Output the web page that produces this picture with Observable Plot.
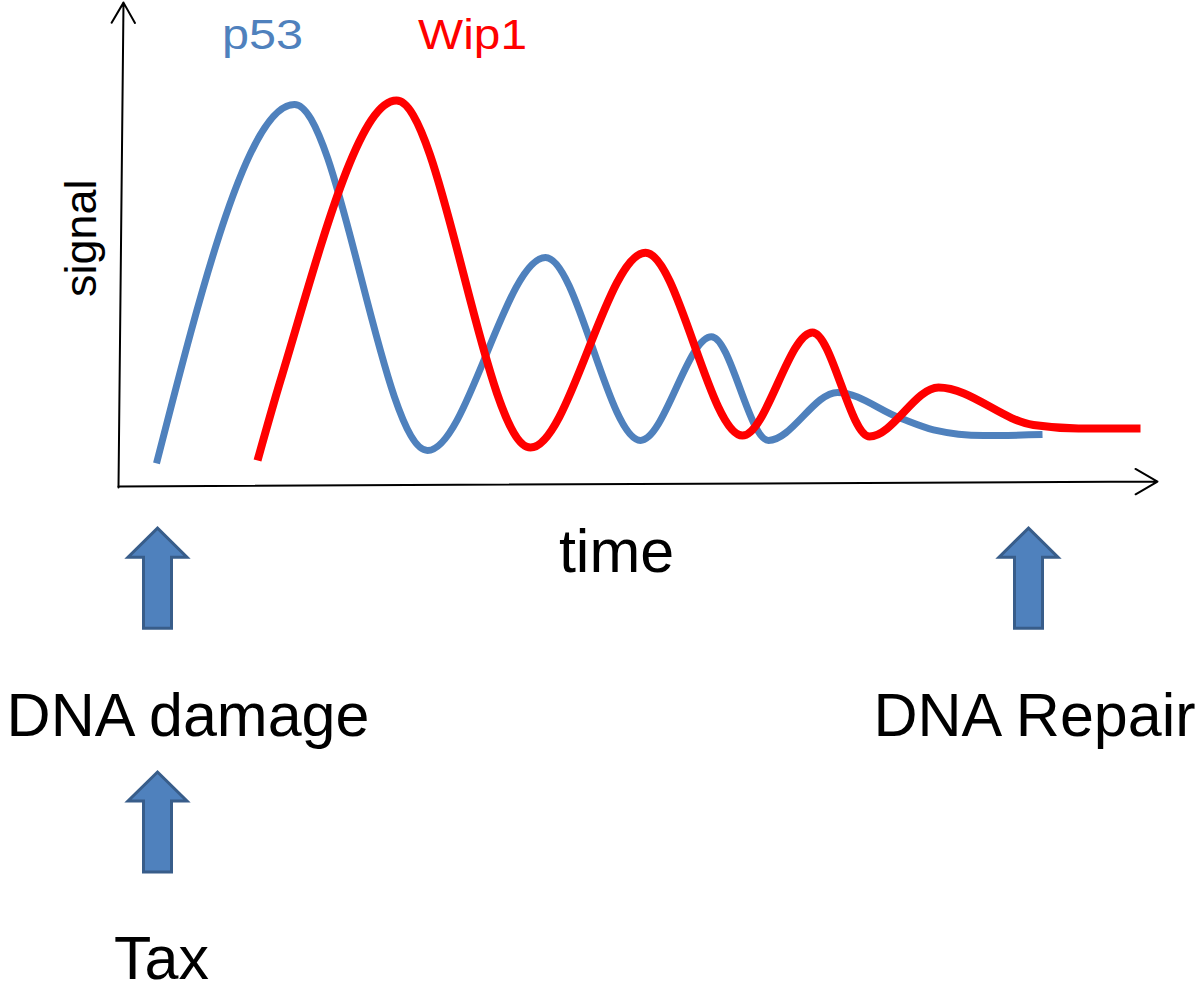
<!DOCTYPE html>
<html>
<head>
<meta charset="utf-8">
<script src="https://cdn.jsdelivr.net/npm/d3@7"></script>
<script src="https://cdn.jsdelivr.net/npm/@observablehq/plot@0.6"></script>
<style>
  html, body { margin: 0; padding: 0; background: #ffffff; }
  #chart svg { display: block; }
</style>
</head>
<body>
<div id="chart"></div>
<script>
// ---- Data (time units, signal units) ----
const p53T = [3.8, 17.6, 30.9, 42.7, 52.2, 59.3, 65.0, 71.9, 78.2, 81.5, 86.5, 92.4];
const p53S = [4.6, 79.4, 7.3, 47.5, 9.4, 31.0, 9.4, 19.4, 14.0, 11.6, 10.4, 10.6];

const wip1T = [13.9, 16.2, 27.8, 41.2, 52.7, 62.4, 69.4, 75.1, 82.0, 91.5, 96.0, 102.2];
const wip1S = [5.2, 21.9, 80.2, 7.9, 48.5, 10.4, 31.9, 10.2, 20.4, 12.6, 11.9, 11.9];

// Axis extents (data units)
const timeAxisT = [0, 103.9];
const timeAxisS = [-0.2, 0.83];
const signalAxisT = [0, 0.5];
const signalAxisS = [-0.4, 100.6];

// Event arrows (time, signal offset below axis)
const eventArrowT = [3.9, 3.9, 91.0];
const eventArrowS = [-19.3, -70.1, -19.3];

// Labels
const seriesNames = ["p53", "Wip1"];
const seriesLabelT = [14.4, 35.4];
const seriesLabelS = [91.0, 91.0];
const seriesColors = ["#4F81BD", "#FF0000"];
const seriesLabelWidth = [81, 109];

const eventNames = ["DNA damage", "DNA Repair", "Tax"];
const eventLabelT = [6.95, 91.6, 4.3];
const eventLabelS = [-52.1, -52.1, -102.9];

const axisTitles = ["time", "signal"];
const axisTitleT = [49.8, -2.3];
const axisTitleS = [-18.1, 51.5];

// ---- Build tables ----
const p53 = p53T.map((t, i) => ({t, s: p53S[i]}));
const wip1 = wip1T.map((t, i) => ({t, s: wip1S[i]}));
const axes = [
  {x1: timeAxisT[0], y1: timeAxisS[0], x2: timeAxisT[1], y2: timeAxisS[1]},
  {x1: signalAxisT[0], y1: signalAxisS[0], x2: signalAxisT[1], y2: signalAxisS[1]}
];
const arrows = eventArrowT.map((t, i) => ({t, s: eventArrowS[i]}));
const seriesLabels = seriesNames.map((name, i) => ({name, t: seriesLabelT[i], s: seriesLabelS[i], color: seriesColors[i]}));
const eventLabels = eventNames.map((name, i) => ({name, t: eventLabelT[i], s: eventLabelS[i]}));

const blockArrow = {
  draw(ctx, size) {
    const k = Math.sqrt(size / Math.PI) / 10;
    const pts = [[0, -50], [29.5, -21], [14, -21], [14, 50], [-14, 50], [-14, -21], [-29.5, -21]];
    ctx.moveTo(pts[0][0] * k, pts[0][1] * k);
    for (let i = 1; i < pts.length; i++) ctx.lineTo(pts[i][0] * k, pts[i][1] * k);
    ctx.closePath();
  }
};

const sans = "'Liberation Sans', Arial, Helvetica, sans-serif";

const chart = Plot.plot({
  width: 1200,
  height: 996,
  margin: 0,
  style: {background: "#ffffff"},
  x: {domain: [0, 104], range: [118, 1158], axis: null},
  y: {domain: [0, 100], range: [485, 5], axis: null},
  marks: [
    Plot.arrow(axes.slice(0, 1), {x1: "x1", y1: "y1", x2: "x2", y2: "y2", stroke: "#000", strokeWidth: 2, headLength: 19, headAngle: 60}),
    Plot.arrow(axes.slice(1), {x1: "x1", y1: "y1", x2: "x2", y2: "y2", stroke: "#000", strokeWidth: 2, headLength: 17.5, headAngle: 60}),
    Plot.line(p53, {x: "t", y: "s", stroke: "#4F81BD", strokeWidth: 7, curve: "monotone-x", strokeLinecap: "butt", strokeLinejoin: "round"}),
    Plot.line(wip1, {x: "t", y: "s", stroke: "#FF0000", strokeWidth: 8, curve: "monotone-x", strokeLinecap: "butt", strokeLinejoin: "round"}),
    Plot.dot(arrows, {x: "t", y: "s", r: 10, symbol: blockArrow, fill: "#4F81BD", stroke: "#385D8A", strokeWidth: 3, strokeLinejoin: "miter"}),
    Plot.text(seriesLabels, {x: "t", y: "s", text: "name", fill: "color", fontSize: 42, fontFamily: sans, textAnchor: "middle", lineAnchor: "bottom", className: "series-label"}),
    Plot.text(eventLabels, {x: "t", y: "s", text: "name", fill: "#000", fontSize: 61, fontFamily: sans, textAnchor: "middle", lineAnchor: "bottom"}),
    Plot.text([axisTitles[0]], {x: () => axisTitleT[0], y: () => axisTitleS[0], text: d => d, fill: "#000", fontSize: 61, fontFamily: sans, textAnchor: "middle", lineAnchor: "bottom"}),
    Plot.text([axisTitles[1]], {x: () => axisTitleT[1], y: () => axisTitleS[1], text: d => d, fill: "#000", fontSize: 45, fontFamily: sans, textAnchor: "middle", lineAnchor: "bottom", rotate: -90})
  ]
});
// widen the series labels to the reference's proportions
chart.querySelectorAll(".series-label text").forEach((el, i) => {
  el.setAttribute("textLength", seriesLabelWidth[i]);
  el.setAttribute("lengthAdjust", "spacingAndGlyphs");
});
document.getElementById("chart").appendChild(chart);
</script>
</body>
</html>
